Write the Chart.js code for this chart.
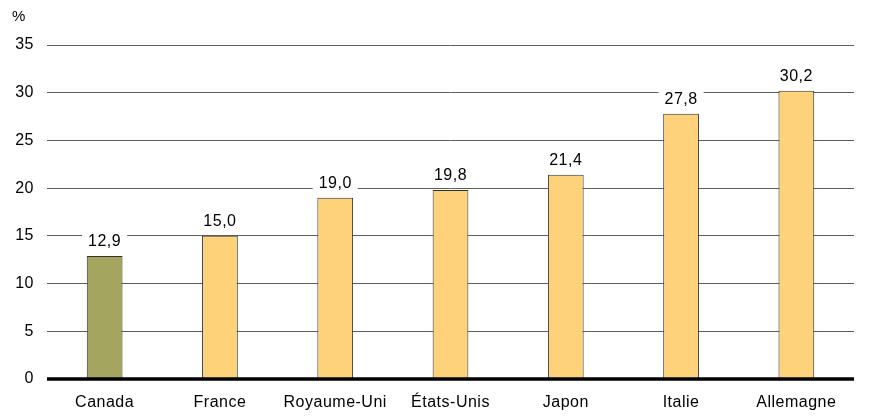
<!DOCTYPE html>
<html>
<head>
<meta charset="utf-8">
<script src="https://cdn.jsdelivr.net/npm/chart.js@4"></script>
<style>
html,body{margin:0;padding:0;background:#fff;}
#wrap{width:871px;height:418px;position:relative;}
</style>
</head>
<body>
<div id="wrap"><canvas id="c" width="871" height="418"></canvas></div>
<script>
const categories = ["Canada", "France", "Royaume-Uni", "États-Unis", "Japon", "Italie", "Allemagne"];
const values = [12.9, 15.0, 19.0, 19.8, 21.4, 27.8, 30.2];
const yTicks = [0, 5, 10, 15, 20, 25, 30, 35];
const unitLabel = "%";

const FONT = "'Liberation Sans', Arial, sans-serif";
const barColors = categories.map((c, i) => i === 0 ? "#A4A55E" : "#FDD27A");

const spacing = {
  id: "spacing",
  beforeDraw(chart) { chart.ctx.letterSpacing = "0.5px"; }
};

const labelPlugin = {
  id: "valueLabels",
  afterDatasetsDraw(chart) {
    const ctx = chart.ctx;
    const meta = chart.getDatasetMeta(0);
    ctx.save();
    ctx.font = "16px " + FONT;
    ctx.textAlign = "center";
    ctx.textBaseline = "middle";
    meta.data.forEach((bar, i) => {
      const txt = values[i].toFixed(1).replace(".", ",");
      const w = ctx.measureText(txt).width;
      const cy = bar.y - 14;
      ctx.fillStyle = "#fff";
      ctx.fillRect(bar.x - w / 2 - 6, cy - 8, w + 12, 16);
      ctx.fillStyle = "#000";
      ctx.fillText(txt, bar.x, cy);
    });
    ctx.font = "15px " + FONT;
    ctx.textAlign = "left";
    ctx.fillText(unitLabel, 12, 17);
    ctx.restore();
  }
};

const zeroLine = {
  id: "zeroLine",
  afterDatasetsDraw(chart) {
    const ctx = chart.ctx;
    const y = chart.scales.y.getPixelForValue(0);
    const a = chart.chartArea;
    ctx.save();
    ctx.strokeStyle = "#000";
    ctx.lineWidth = 3.5;
    ctx.beginPath();
    ctx.moveTo(a.left, y);
    ctx.lineTo(a.right, y);
    ctx.stroke();
    ctx.restore();
  }
};

new Chart(document.getElementById("c"), {
  type: "bar",
  data: {
    labels: categories,
    datasets: [{
      data: values,
      backgroundColor: barColors,
      borderColor: "#333",
      borderWidth: 1,
      barPercentage: 0.31,
      categoryPercentage: 1
    }]
  },
  options: {
    responsive: false,
    animation: false,
    devicePixelRatio: 1,
    layout: { padding: { top: 45, right: 17, left: 0, bottom: 0 } },
    plugins: { legend: { display: false }, tooltip: { enabled: false } },
    scales: {
      x: {
        grid: { display: false },
        border: { display: false },
        ticks: { color: "#000", font: { family: FONT, size: 16 }, padding: 6, maxRotation: 0 },
        afterFit(s) { s.height = 39; }
      },
      y: {
        min: 0, max: 35,
        afterBuildTicks(s) { s.ticks = yTicks.map(v => ({ value: v })); },
        grid: { color: "#5e5e5e", lineWidth: 1, drawTicks: false },
        border: { display: false },
        ticks: { color: "#000", font: { family: FONT, size: 16 }, padding: 13 },
        afterFit(s) { s.width = 47; }
      }
    }
  },
  plugins: [spacing, labelPlugin, zeroLine]
});
</script>
</body>
</html>
